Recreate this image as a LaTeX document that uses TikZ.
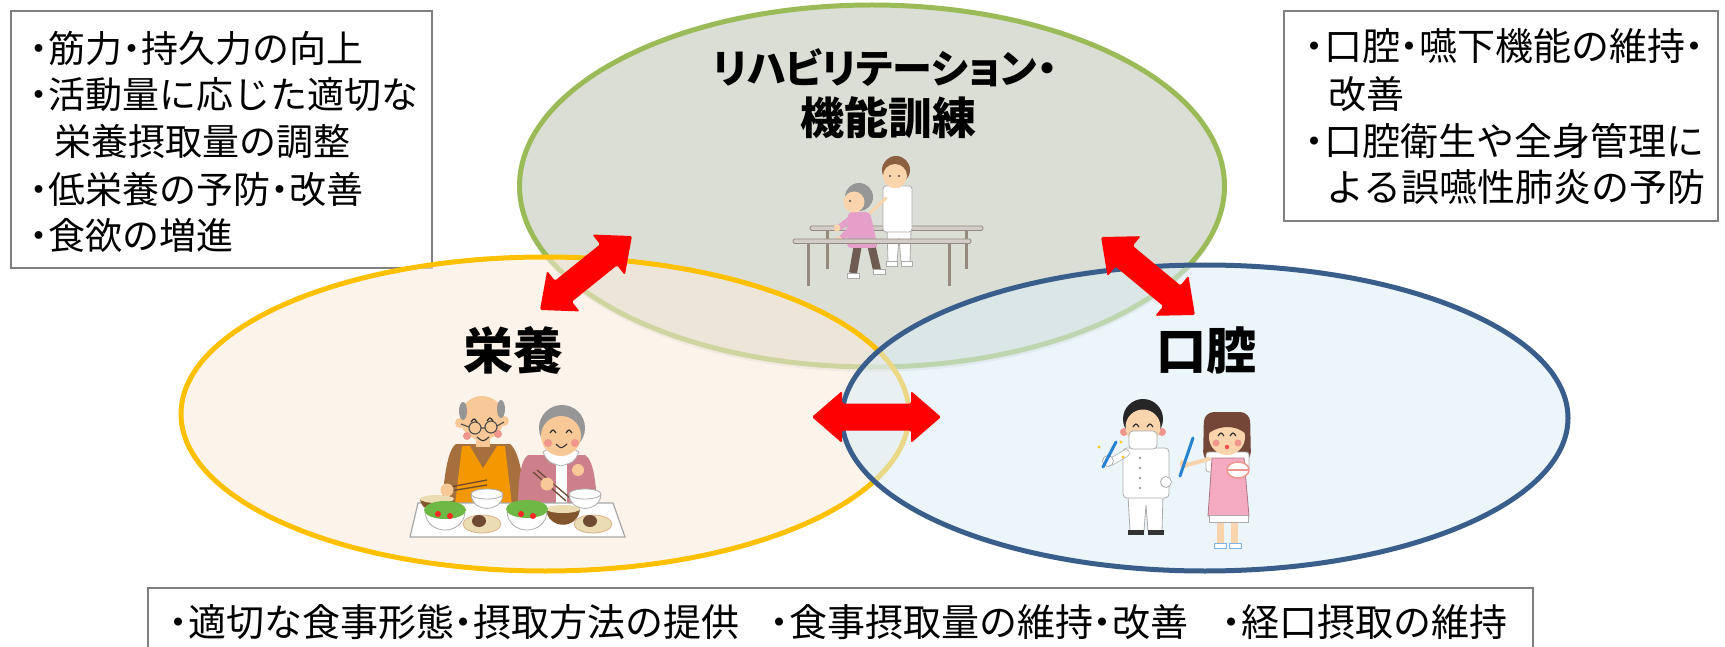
\documentclass[tikz,border=0pt]{standalone}
\usepackage{fontspec}
\newfontfamily\jp{Noto Sans CJK JP}
\newfontfamily\jpp[RawFeature=+palt]{Noto Sans CJK JP}
\usetikzlibrary{shapes.geometric,shadows,calc}
\definecolor{rehagreen}{RGB}{155,187,89}
\definecolor{rehafill}{RGB}{219,222,213}
\definecolor{eiyoyellow}{RGB}{255,192,0}
\definecolor{eiyofill}{RGB}{251,235,219}
\definecolor{kokublue}{RGB}{58,94,140}
\definecolor{kokufill}{RGB}{219,237,246}
\definecolor{boxgray}{RGB}{128,128,128}
\definecolor{arrowred}{RGB}{255,0,0}
\definecolor{skin}{RGB}{250,212,172}
\definecolor{skinb}{RGB}{248,200,150}
\definecolor{cheek}{RGB}{240,150,140}
\definecolor{railc}{RGB}{150,138,128}
\definecolor{railfill}{RGB}{210,205,200}
\definecolor{hairbrown}{RGB}{140,95,65}
\definecolor{hairgray}{RGB}{150,150,150}
\definecolor{pinkwear}{RGB}{228,160,200}
\definecolor{pantsbrown}{RGB}{110,92,82}
\definecolor{shirtbrown}{RGB}{165,112,62}
\definecolor{vestorange}{RGB}{243,152,0}
\definecolor{rosewear}{RGB}{205,128,140}
\definecolor{misobrown}{RGB}{130,85,45}
\definecolor{saladgreen}{RGB}{110,185,70}
\definecolor{platebeige}{RGB}{235,220,180}
\definecolor{foodbrown}{RGB}{110,75,50}
\definecolor{brushblue}{RGB}{40,130,210}
\definecolor{apronpink}{RGB}{244,170,192}
\definecolor{hygienehair}{RGB}{115,70,55}
\definecolor{sparkle}{RGB}{250,200,40}
\newcommand\nd{\makebox[0.5em][c]{・}}
\tikzset{
  infobox/.style={draw=boxgray, line width=2pt, fill=white, anchor=north west, inner sep=0pt},
  bodytext/.style={font=\jp\fontsize{37}{44}\selectfont, anchor=west, inner sep=0pt},
  textbig/.style={font=\jp\fontsize{38}{44}\selectfont, anchor=west, inner sep=0pt},
  areatitle/.style={font=\jpp\bfseries\fontsize{44}{50}\selectfont, inner sep=0pt},
  areatitlekana/.style={font=\jpp\bfseries\fontsize{40}{48}\selectfont, inner sep=0pt},
  arealabel/.style={font=\jp\bfseries\fontsize{50}{56}\selectfont, inner sep=0pt},
  area/.style={ellipse, line width=5pt, inner sep=0pt},
  outline/.style={draw=gray!65, line width=0.8pt},
  pics/dblarrow/.style={code={
    \fill[arrowred, rounded corners=1.5pt]
      (-#1,0) -- (-#1+30,-26) -- (-#1+30,-13.5) -- (#1-30,-13.5) -- (#1-30,-26)
      -- (#1,0) -- (#1-30,26) -- (#1-30,13.5) -- (-#1+30,13.5) -- (-#1+30,26) -- cycle;
  }}
}
\begin{document}
\begin{tikzpicture}[x=1pt,y=-1pt]
\useasboundingbox (0,0) rectangle (1725,647);
\fill[white] (0,0) rectangle (1725,647);

% ---------- info boxes (top) ----------
\node[infobox, minimum width=421pt, minimum height=257pt] (boxL) at (10,10) {};
\node[infobox, minimum width=434pt, minimum height=210pt] (boxR) at (1283,10) {};

\node[bodytext] (tl1) at (30,48)  {\nd 筋力\nd 持久力の向上};
\node[bodytext] (tl2) at (30,95)  {\nd 活動量に応じた適切な};
\node[bodytext] (tl3) at (54,142) {栄養摂取量の調整};
\node[bodytext] (tl4) at (30,189) {\nd 低栄養の予防\nd 改善};
\node[bodytext] (tl5) at (30,235) {\nd 食欲の増進};

\node[textbig] (tr1) at (1305,46)  {\nd 口腔\nd 嚥下機能の維持\nd};
\node[textbig] (tr2) at (1328,94)  {改善};
\node[textbig] (tr3) at (1305,141) {\nd 口腔衛生や全身管理に};
\node[textbig] (tr4) at (1326,187) {よる誤嚥性肺炎の予防};

% ---------- rehabilitation area ----------
\node[area, draw=rehagreen, fill=rehafill, minimum width=705pt, minimum height=362pt,
      drop shadow={opacity=0.18, shadow xshift=0pt, shadow yshift=-5pt}] (reha) at (872,186) {};

% rehab illustration: upper rail
\fill[railc] (825.5,229) rectangle (828.5,269);
\fill[railc] (964.5,229) rectangle (967.5,269);
\filldraw[fill=railfill, draw=railc, line width=0.8pt, rounded corners=1.5pt] (810,226) rectangle (983,230.5);
% therapist
\filldraw[fill=white, outline] (887,229) -- (911,229) -- (910,262) -- (901,262) -- (899,238) -- (897,262) -- (888,262) -- cycle;
\filldraw[fill=white, outline] (886,261) rectangle (897,266);
\filldraw[fill=white, outline] (901,261) rectangle (912,266);
\filldraw[fill=white, outline, rounded corners=3pt] (883,186) rectangle (912,232);
\draw[skin, line width=3pt, line cap=round] (886,198) -- (870,213);
\fill[skin] (891,182) rectangle (900,188);
\fill[hairbrown] (896,170) circle (14);
\fill[skin] (895,176) circle (12);
\fill[black!70] (890,176) circle (1.2);
\fill[black!70] (899,176) circle (1.2);
% patient
\draw[pantsbrown, line width=8pt] (858,244) -- (853,273);
\draw[pantsbrown, line width=8pt] (871,244) -- (877,270);
\filldraw[fill=white, outline] (847,273) rectangle (859,278);
\filldraw[fill=white, outline] (873,269) rectangle (885,274);
\fill[pinkwear, rounded corners=4pt] (848,212) -- (870,212) -- (878,248) -- (847,248) -- cycle;
\draw[pinkwear, line width=6pt, line cap=round] (853,217) -- (840,227);
\draw[pinkwear, line width=6pt, line cap=round] (857,222) -- (842,238);
\fill[skin] (837,228) circle (3.5);
\fill[skin] (839,240) circle (3.5);
\fill[hairgray] (859,197) circle (14);
\fill[skin] (854,202) circle (10.5);
\fill[black!70] (850,201) circle (1.1);
% lower rail
\fill[railc] (806.5,242) rectangle (809.5,286);
\fill[railc] (947.5,242) rectangle (950.5,286);
\filldraw[fill=railfill, draw=railc, line width=0.8pt, rounded corners=1.5pt] (793,239) rectangle (971,243.5);

% ---------- nutrition and oral areas ----------
\node[area, draw=eiyoyellow, fill=eiyofill, fill opacity=0.55, minimum width=728pt, minimum height=314pt] (eiyo) at (545,414) {};
\node[area, draw=kokublue, fill=kokufill, fill opacity=0.55, minimum width=726pt, minimum height=306pt] (koku) at (1205,418) {};

% ---------- couple eating ----------
% man
\fill[shirtbrown] (456,444) .. controls (447,450) and (444,480) .. (442,505) -- (526,505) .. controls (523,480) and (520,452) .. (510,444) -- cycle;
\fill[vestorange] (462,446) -- (505,446) -- (512,505) -- (455,505) -- cycle;
\fill[shirtbrown] (470,446) -- (497,446) -- (483,468) -- cycle;
\fill[skinb] (476,436) rectangle (490,447);
\fill[skinb] (460,423) circle (5);
\fill[skinb] (504,421) circle (5);
\fill[skinb] (482,418) circle (22);
\fill[hairgray] (463,411) ellipse [x radius=4pt, y radius=9pt];
\fill[hairgray] (501,409) ellipse [x radius=4pt, y radius=9pt];
\fill[cheek] (467,436) circle (4);
\fill[cheek] (498,434) circle (4);
\draw[black!70, line width=1.1pt] (475,428) circle (6);
\draw[black!70, line width=1.1pt] (491,427) circle (6);
\draw[black!70, line width=1.1pt] (481,428) -- (485,428) (469,427) -- (461,424) (497,426) -- (504,422);
\draw[black!80, line width=1.2pt] (471,422) .. controls (474,418) .. (477,422);
\draw[black!80, line width=1.2pt] (487,421) .. controls (490,417) .. (493,421);
\draw[black!80, line width=1.1pt] (477,437) .. controls (483,442) .. (489,437);
\draw[foodbrown, line width=1.3pt] (450,487) -- (487,480);
\draw[foodbrown, line width=1.3pt] (450,491) -- (487,485);
\fill[skinb] (447,490) circle (6.5);
% woman
\fill[rosewear] (528,455) .. controls (520,460) and (518,485) .. (518,505) -- (597,505) .. controls (596,485) and (594,460) .. (585,455) -- cycle;
\fill[white] (556,462) rectangle (567,505);
\filldraw[fill=white, draw=gray!60, line width=0.8pt] (543,452) .. controls (548,462) .. (561,466) .. controls (574,462) .. (579,452) -- (570,447) -- (552,447) -- cycle;
\fill[hairgray] (562,428) circle (23);
\fill[skinb] (561,436) circle (20);
\fill[cheek] (548,443) circle (4);
\fill[cheek] (575,443) circle (4);
\draw[black!80, line width=1.2pt] (550,433) .. controls (553,429) .. (556,433);
\draw[black!80, line width=1.2pt] (566,433) .. controls (569,429) .. (572,433);
\draw[black!80, line width=1.1pt] (556,444) .. controls (561,449) .. (567,444);
\draw[foodbrown, line width=1.3pt] (533,472) -- (566,501);
\draw[foodbrown, line width=1.3pt] (537,470) -- (570,498);
\fill[skinb] (547,484) circle (6.5);
\fill[skinb] (578,470) circle (6);
% table
\filldraw[fill=white, draw=gray!70, line width=1.2pt] (418,503) -- (613,503) -- (625,537) -- (410,537) -- cycle;
% food left group
\fill[misobrown] (420,499) .. controls (422,516) and (452,516) .. (454,499) -- cycle;
\fill[platebeige] (437,499) ellipse [x radius=17pt, y radius=4pt];
\filldraw[fill=white, outline] (471,495) .. controls (473,513) and (501,513) .. (503,495) -- cycle;
\filldraw[fill=white, outline] (487,494) ellipse [x radius=16pt, y radius=5pt];
\filldraw[fill=white, outline] (425,512) .. controls (427,536) and (463,536) .. (465,512) -- cycle;
\fill[saladgreen] (445,510) ellipse [x radius=21pt, y radius=9pt];
\fill[red!85] (438,514) circle (3);
\fill[red!85] (450,516) circle (3);
\filldraw[fill=platebeige, draw=brown!60, line width=0.8pt] (482,524) ellipse [x radius=19pt, y radius=9pt];
\fill[foodbrown] (479,521) ellipse [x radius=7pt, y radius=6pt];
% food right group
\fill[misobrown] (546,509) .. controls (548,530) and (578,530) .. (580,509) -- cycle;
\fill[platebeige] (563,509) ellipse [x radius=17pt, y radius=4pt];
\filldraw[fill=white, outline] (569,495) .. controls (571,513) and (599,513) .. (601,495) -- cycle;
\filldraw[fill=white, outline] (585,494) ellipse [x radius=16pt, y radius=5pt];
\filldraw[fill=white, outline] (507,512) .. controls (509,536) and (545,536) .. (547,512) -- cycle;
\fill[saladgreen] (527,509) ellipse [x radius=21pt, y radius=9pt];
\fill[red!85] (521,514) circle (3);
\fill[red!85] (533,516) circle (3);
\filldraw[fill=platebeige, draw=brown!60, line width=0.8pt] (593,524) ellipse [x radius=19pt, y radius=9pt];
\fill[foodbrown] (590,521) ellipse [x radius=7pt, y radius=6pt];

% ---------- dentist and hygienist ----------
\filldraw[fill=white, outline] (1128,495) -- (1163,495) -- (1162,531) -- (1148,531) -- (1146,505) -- (1144,531) -- (1130,531) -- cycle;
\fill[black!80] (1128,530) rectangle (1144,535);
\fill[black!80] (1148,530) rectangle (1164,535);
\filldraw[fill=white, outline, rounded corners=4pt] (1123,448) rectangle (1169,498);
\foreach \by in {458,468,478,488} \fill[gray] (1140,\by) circle (1.2);
\draw[gray!65, line width=7.5pt, line cap=round] (1126,453) -- (1111,462);
\draw[white, line width=6pt, line cap=round] (1126,453) -- (1111,462);
\filldraw[fill=white, outline] (1108,461) circle (5.5);
\draw[brushblue, line width=3pt, line cap=round] (1103,467) -- (1116,442);
\fill[sparkle] (1099,447) circle (1.6);
\fill[sparkle] (1121,442) circle (1.6);
\fill[sparkle] (1123,457) circle (1.6);
\filldraw[fill=white, outline] (1166,482) circle (5.5);
\fill[cheek] (1124,432) circle (4);
\fill[cheek] (1162,432) circle (4);
\fill[black!85] (1143,419) circle (20);
\fill[skin] (1143,427) circle (17.5);
\draw[black!80, line width=1.2pt] (1133,427) .. controls (1136,423) .. (1139,427);
\draw[black!80, line width=1.2pt] (1147,427) .. controls (1150,423) .. (1153,427);
\filldraw[fill=white, outline, rounded corners=4pt] (1129,431) rectangle (1157,449);
% hygienist
\fill[skin] (1217,518) rectangle (1224,545);
\fill[skin] (1231,518) rectangle (1238,545);
\filldraw[fill=white, draw=brushblue!60, line width=0.8pt] (1214,543) rectangle (1226,548);
\filldraw[fill=white, draw=brushblue!60, line width=0.8pt] (1229,543) rectangle (1241,548);
\fill[hygienehair, rounded corners=10pt] (1204,412) -- (1250,412) -- (1251,462) -- (1203,462) -- cycle;
\filldraw[fill=white, outline, rounded corners=3pt] (1206,452) rectangle (1249,472);
\filldraw[fill=apronpink, draw=apronpink!70!black, line width=0.8pt] (1212,458) -- (1244,458) -- (1249,516) -- (1208,516) -- cycle;
\filldraw[fill=white, outline] (1209,515) rectangle (1248,522);
\draw[skin, line width=4pt, line cap=round] (1209,459) -- (1187,465);
\fill[skin] (1184,464) circle (4.5);
\draw[brushblue, line width=3pt, line cap=round] (1180,476) -- (1193,438);
\fill[skin] (1227,437) circle (18);
\fill[hygienehair] (1209,433) .. controls (1212,413) and (1242,413) .. (1245,433) .. controls (1235,425) and (1220,425) .. (1209,433);
\fill[cheek] (1216,443) circle (3.5);
\fill[cheek] (1238,443) circle (3.5);
\draw[black!80, line width=1.2pt] (1218,436) .. controls (1221,432) .. (1224,436);
\draw[black!80, line width=1.2pt] (1230,436) .. controls (1233,432) .. (1236,436);
\fill[red!70] (1227,447) circle (2.2);
\filldraw[fill=white, draw=cheek, line width=1.5pt] (1238,470) ellipse [x radius=11pt, y radius=8pt];
\draw[cheek, line width=2pt] (1228,470) -- (1248,470);

% ---------- area labels ----------
\node[areatitlekana] (t1) at (885,68)  {リハビリテーション・};
\node[areatitle] (t2) at (888,118) {機能訓練};
\node[arealabel] (l1) at (513,350)  {栄養};
\node[arealabel] (l2) at (1206,350) {口腔};

% ---------- arrows ----------
\coordinate (a1s) at (540,310);
\coordinate (a1e) at (632,236);
\pic[rotate=38.8] at ($(a1s)!0.5!(a1e)$) {dblarrow=59};
\coordinate (a2s) at (1101,237);
\coordinate (a2e) at (1195,315);
\pic[rotate=-39.7] at ($(a2s)!0.5!(a2e)$) {dblarrow=61};
\coordinate (a3s) at (812,417);
\coordinate (a3e) at (941,417);
\pic at ($(a3s)!0.5!(a3e)$) {dblarrow=64.5};

% ---------- bottom box ----------
\node[infobox, minimum width=1385pt, minimum height=80pt] (boxB) at (147,587) {};
\node[textbig] (b1) at (169,622)  {\nd 適切な食事形態\nd 摂取方法の提供};
\node[textbig] (b2) at (770,622)  {\nd 食事摂取量の維持\nd 改善};
\node[textbig] (b3) at (1222,622) {\nd 経口摂取の維持};
\end{tikzpicture}
\end{document}
